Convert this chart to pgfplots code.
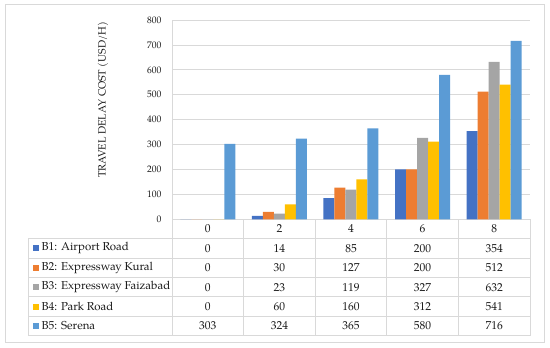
\documentclass[border=0pt]{standalone}
\usepackage{fontspec}
\setmainfont{TeX Gyre Pagella}
\usepackage{pgfplots}
\usepackage{pgfplotstable}
\pgfplotsset{compat=1.18}
\definecolor{c1}{HTML}{4472C4}
\definecolor{c2}{HTML}{ED7D31}
\definecolor{c3}{HTML}{A5A5A5}
\definecolor{c4}{HTML}{FFC000}
\definecolor{c5}{HTML}{5B9BD5}
\definecolor{gridgray}{HTML}{D9D9D9}
\definecolor{txt}{HTML}{1A1A1A}
\pgfplotstableread{
x b1 b2 b3 b4 b5
0 0 0 0 0 303
1 14 30 23 60 324
2 85 127 119 160 365
3 200 200 327 312 580
4 354 512 632 541 716
}\datatable
\begin{document}
\begin{tikzpicture}[x=1pt,y=1pt]
\useasboundingbox (0,0) rectangle (550,348);
\begin{axis}[
  scale only axis, width=358pt, height=199.3pt,
  at={(172pt,128.7pt)}, anchor=south west,
  ymin=0, ymax=800, ytick={0,100,...,800},
  xmin=-0.5, xmax=4.5, xtick=\empty,
  ybar=0pt, bar width=11pt,
  ymajorgrids, grid style={draw=gridgray, line width=0.8pt},
  axis x line*=bottom, axis y line*=left,
  axis line style={draw=gridgray, line width=0.8pt, -},
  major tick length=0pt,
  /pgf/number format/assume math mode=true,
  yticklabel style={font=\fontsize{9.5}{11}\selectfont, text=txt, xshift=-7pt},
  clip=false,
]
\addplot[fill=c1, draw=none] table[x=x,y=b1]{\datatable};
\addplot[fill=c2, draw=none] table[x=x,y=b2]{\datatable};
\addplot[fill=c3, draw=none] table[x=x,y=b3]{\datatable};
\addplot[fill=c4, draw=none] table[x=x,y=b4]{\datatable};
\addplot[fill=c5, draw=none] table[x=x,y=b5]{\datatable};
\end{axis}
\begin{scope}[yshift=348pt, y=-1pt]
  \draw[gridgray, line width=0.8pt] (5,4) rectangle (544,342);
  % y label
  \node[rotate=90, text=txt, font=\fontsize{10.5}{12}\selectfont] at (103,100) {TRAVEL DELAY COST (USD/H)};
  % table grid
  \foreach \i in {1,...,6} {
    \pgfmathsetmacro{\yy}{219.3+19.4*\i}
    \draw[gridgray, line width=0.8pt] (28,\yy) -- (529.8,\yy);
  }
  \draw[gridgray, line width=0.8pt] (28,238.7) -- (28,336.3);
  \foreach \c in {0,...,5} {
    \pgfmathsetmacro{\xx}{172+71.6*\c}
    \draw[gridgray, line width=0.8pt] (\xx,219.3) -- (\xx,336.3);
  }
  % header row
  \foreach \v [count=\c from 0] in {0,2,4,6,8} {
    \pgfmathsetmacro{\xx}{172+71.6*\c+35.8}
    \node[text=txt, font=\fontsize{11.5}{13}\selectfont] at (\xx,229) {\v};
  }
  % body rows
  \foreach \s/\lab/\col [count=\i] in {b1/B1: Airport Road/c1, b2/B2: Expressway Kural/c2, b3/B3: Expressway Faizabad/c3, b4/B4: Park Road/c4, b5/B5: Serena/c5} {
    \pgfmathsetmacro{\yc}{219.3+19.4*\i+9.7}
    \fill[\col] (33,\yc-3) rectangle (39,\yc+3);
    \node[anchor=west, inner sep=0pt, text=txt, font=\fontsize{11.5}{13}\selectfont] at (41.5,\yc) {\lab};
    \foreach \r in {0,...,4} {
      \pgfmathsetmacro{\xx}{172+71.6*\r+35.8}
      \pgfplotstablegetelem{\r}{\s}\of\datatable
      \node[text=txt, font=\fontsize{11.5}{13}\selectfont] at (\xx,\yc) {\pgfplotsretval};
    }
  }
\end{scope}
\end{tikzpicture}
\end{document}
